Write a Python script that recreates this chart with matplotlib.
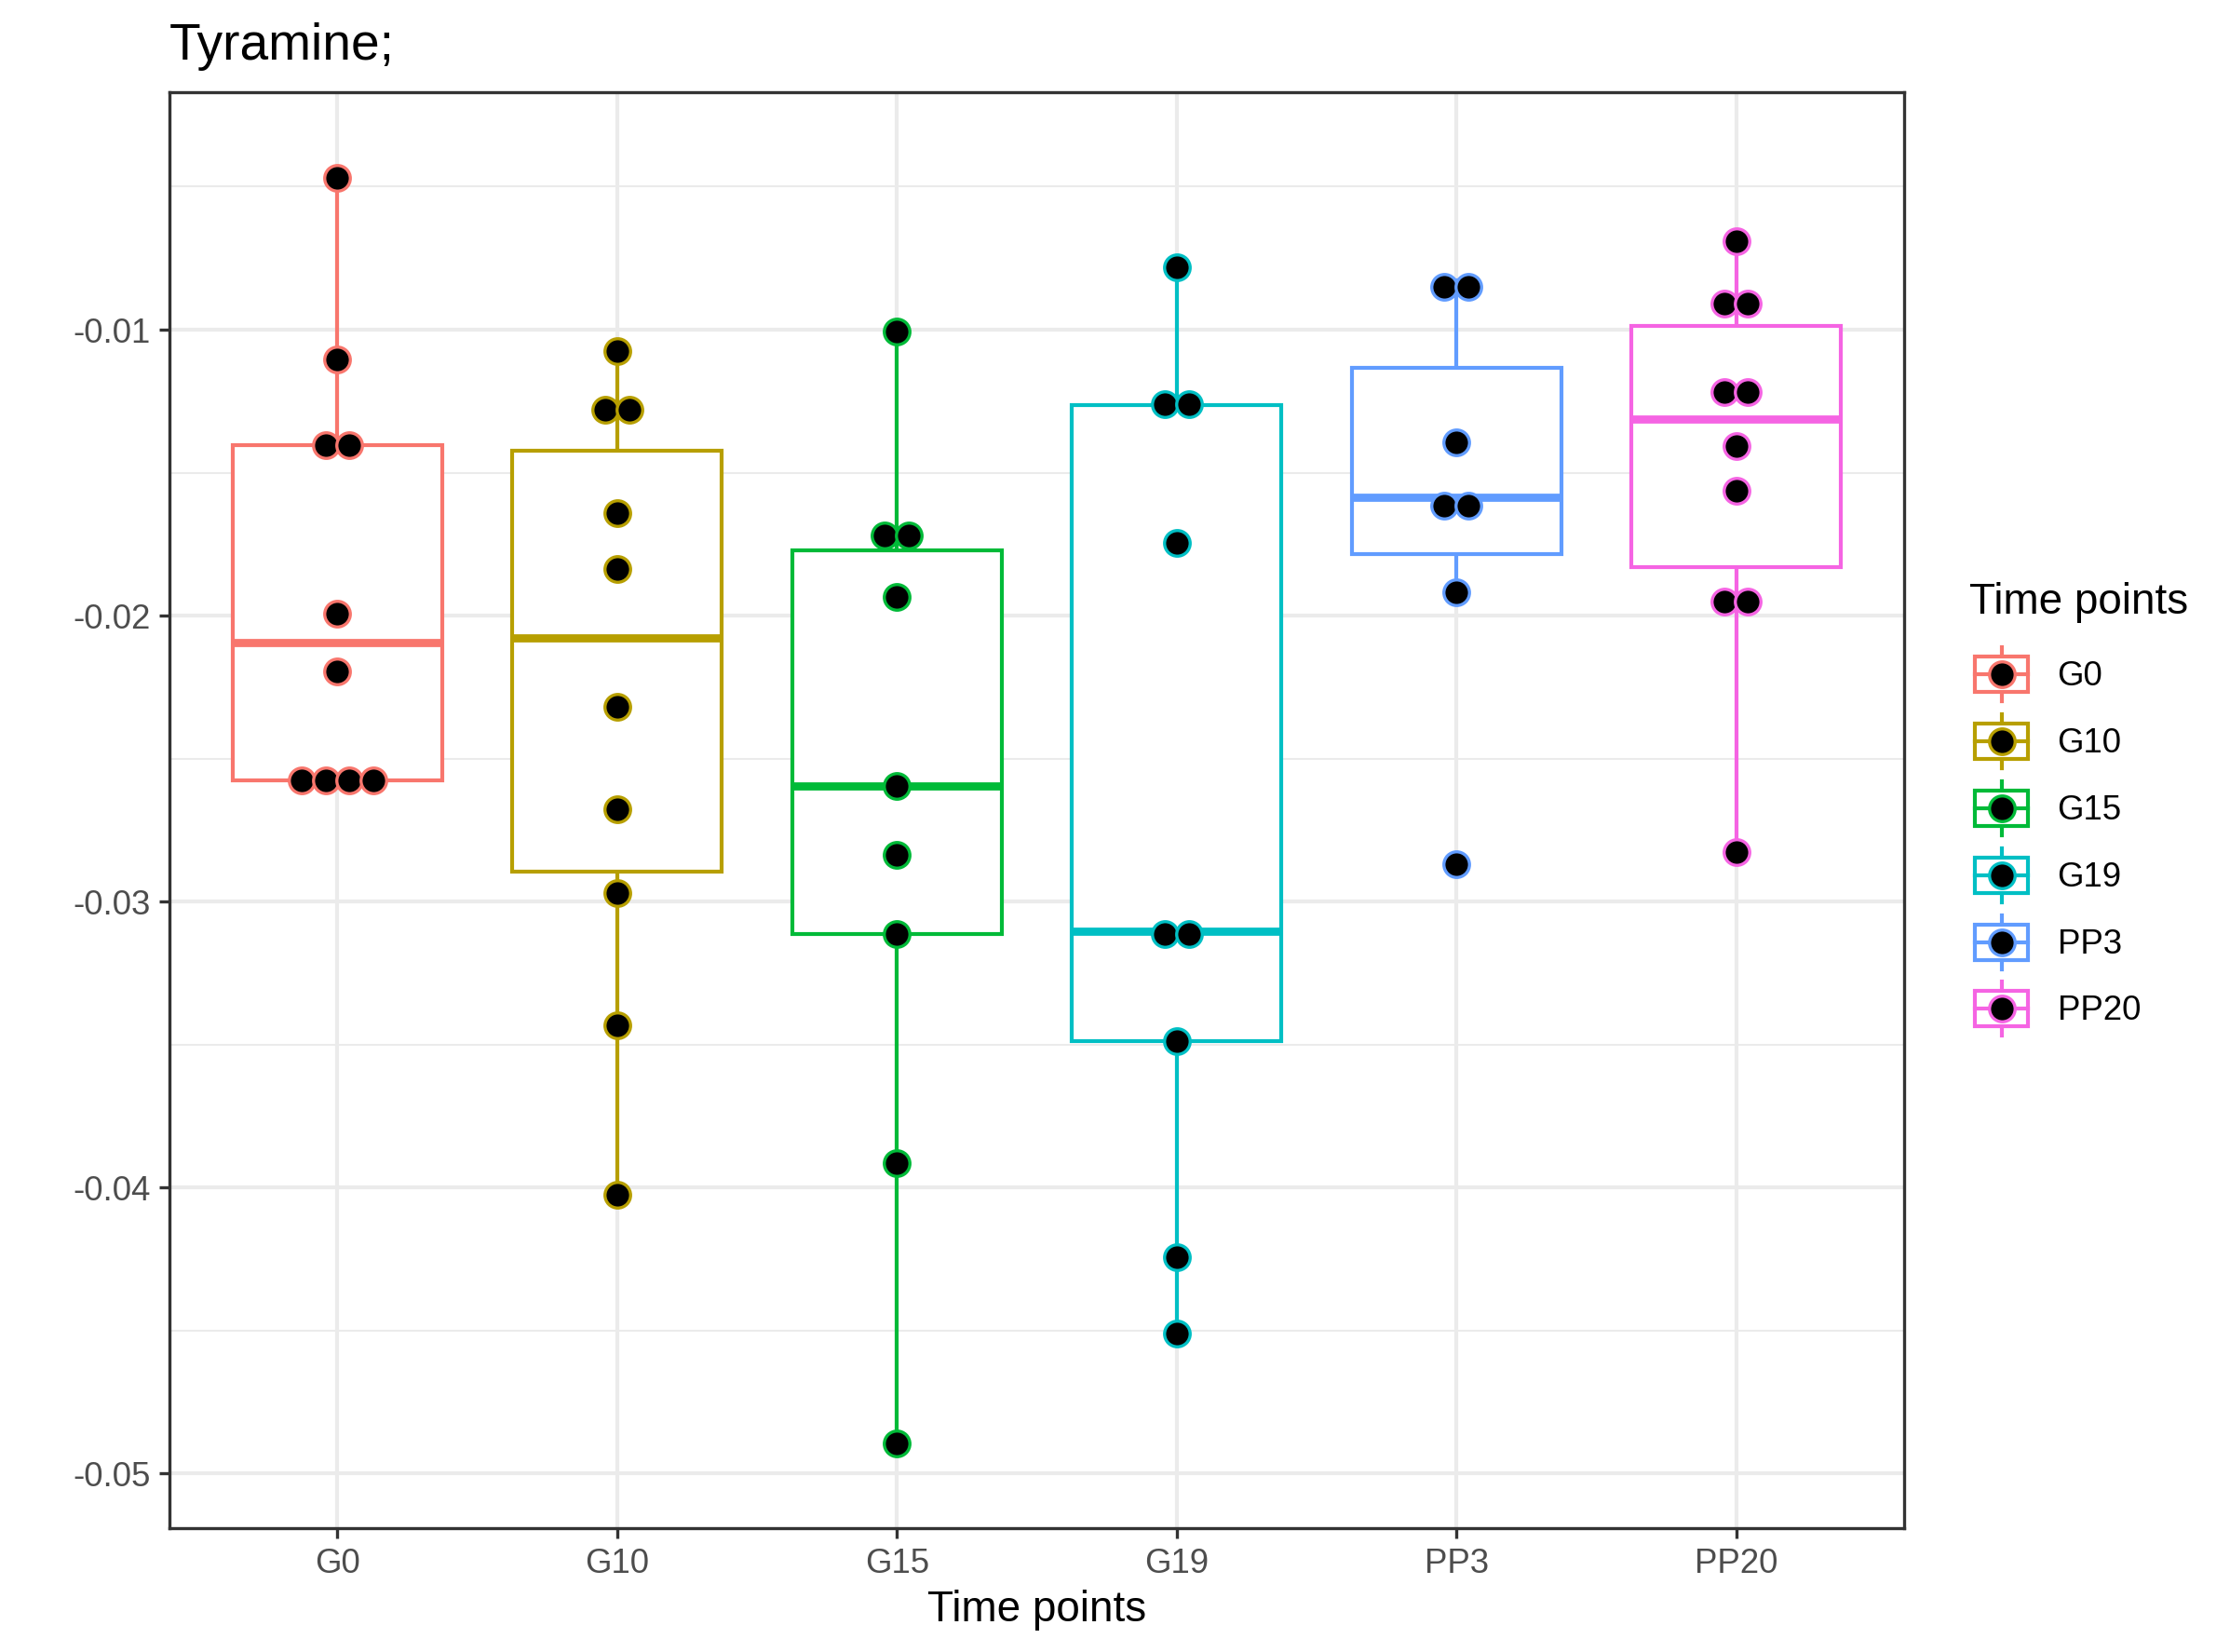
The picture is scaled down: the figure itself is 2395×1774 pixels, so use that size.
import matplotlib
matplotlib.use("Agg")
import matplotlib.pyplot as plt
import numpy as np
from matplotlib.legend_handler import HandlerBase
from matplotlib.lines import Line2D
from matplotlib.patches import Rectangle

plt.rcParams['font.family'] = ['Liberation Sans', 'DejaVu Sans']

# data
categories = ['G0', 'G10', 'G15', 'G19', 'PP3', 'PP20']
g0 = [-0.00468, -0.01104, -0.01403, -0.01403, -0.01995, -0.02194,
      -0.02577, -0.02577, -0.02577, -0.02577]
g10 = [-0.01075, -0.01210, -0.01350, -0.01642, -0.01836, -0.02318,
       -0.02677, -0.02970, -0.03433, -0.04025]
g15 = [-0.01005, -0.01671, -0.01771, -0.01935, -0.02597, -0.02836,
       -0.03114, -0.03915, -0.04896]
g19 = [-0.00781, -0.01254, -0.01264, -0.01746, -0.03104, -0.03124,
       -0.03488, -0.04244, -0.04512]
pp3 = [-0.00827, -0.00875, -0.01393, -0.01587, -0.01647, -0.01920, -0.02871]
pp20 = [-0.00691, -0.00910, -0.00910, -0.01219, -0.01219, -0.01408,
        -0.01562, -0.01920, -0.01980, -0.02826]
groups = [g0, g10, g15, g19, pp3, pp20]
colors = ['#F8766D', '#B79F00', '#00BA38', '#00BFC4', '#619CFF', '#F564E3']

W, H = 2395, 1774
fig = plt.figure(figsize=(W / 300, H / 300), dpi=300)
ax = fig.add_axes([182 / W, 1 - 1641 / H, (2045 - 182) / W, (1641 - 99) / H])

pos = np.arange(1, len(categories) + 1)

# grid like theme_bw
ax.set_axisbelow(True)
ax.set_yticks(np.arange(-0.05, -0.0099, 0.01))
ax.set_yticks(np.arange(-0.045, -0.004, 0.01), minor=True)
ax.grid(True, which='major', color='#EBEBEB', linewidth=1.0)
ax.grid(True, which='minor', axis='y', color='#EBEBEB', linewidth=0.5)

bp = ax.boxplot(groups, positions=pos, widths=0.75, patch_artist=True,
                showfliers=False, showcaps=False, whis=1.5)
for i, c in enumerate(colors):
    bp['boxes'][i].set(facecolor='white', edgecolor=c, linewidth=1.0, zorder=2)
    bp['medians'][i].set(color=c, linewidth=2.1, solid_capstyle='butt', zorder=2.1)
    for w in bp['whiskers'][2 * i:2 * i + 2]:
        w.set(color=c, linewidth=1.0, zorder=1.9)

# dot stacks: values closer than one bin share a row, centred on the bin
binwidth = (max(map(max, groups)) - min(map(min, groups))) / 30
step = 0.085
for i, (vals, c) in enumerate(zip(groups, colors)):
    v = np.sort(vals)
    j = 0
    while j < len(v):
        k = j
        while k + 1 < len(v) and v[k + 1] - v[j] < binwidth:
            k += 1
        n = k - j + 1
        centre = (v[j] + v[k]) / 2
        xs = pos[i] + (np.arange(n) - (n - 1) / 2) * step
        ax.scatter(xs, [centre] * n, s=6.6 ** 2, facecolor='black',
                   edgecolor=c, linewidth=0.8, zorder=3)
        j = k + 1

ax.set_xlim(0.4, 6.6)
ax.set_ylim(-0.05192, -0.001694)
ax.set_xticks(pos)
ax.set_xticklabels(categories)
ax.set_yticklabels(['-0.05', '-0.04', '-0.03', '-0.02', '-0.01'])
ax.tick_params(which='major', length=2.75, width=0.8, color='#333333',
               labelsize=8.8, labelcolor='#4D4D4D', pad=2.2)
ax.tick_params(which='minor', length=0)
for s in ax.spines.values():
    s.set_color('#333333')
    s.set_linewidth(0.8)

ax.set_xlabel('Time points', fontsize=11, labelpad=2.4)
ax.set_title('Tyramine;', loc='left', fontsize=13.2, pad=8.3)


class BoxDotHandler(HandlerBase):
    def create_artists(self, legend, orig_handle, xdescent, ydescent,
                       width, height, fontsize, trans):
        c = orig_handle.get_markeredgecolor()
        cx = width / 2 - xdescent
        cy = height / 2 - ydescent
        bw, bh, wh = 13.7, 9.1, 13.9
        box = Rectangle((cx - bw / 2, cy - bh / 2), bw, bh, facecolor='white',
                        edgecolor=c, linewidth=1.0, transform=trans)
        wl = Line2D([cx, cx], [cy - wh / 2, cy + wh / 2], color=c,
                    linewidth=1.0, transform=trans)
        med = Line2D([cx - bw / 2, cx + bw / 2], [cy, cy], color=c,
                     linewidth=1.0, transform=trans)
        dot = Line2D([cx], [cy], marker='o', markersize=6.6,
                     markerfacecolor='black', markeredgecolor=c,
                     markeredgewidth=0.8, transform=trans)
        return [wl, box, med, dot]


handles = [Line2D([], [], marker='o', markeredgecolor=c, linestyle='none')
           for c in colors]
leg = fig.legend(handles, categories, handler_map={Line2D: BoxDotHandler()},
                 loc='upper left', bbox_to_anchor=(2115 / W, 1 - 625 / H),
                 frameon=False, borderpad=0, borderaxespad=0, fontsize=8.8,
                 title='Time points', title_fontsize=11,
                 handlelength=1.9, handleheight=1.503, labelspacing=0.736,
                 handletextpad=0.68, alignment='left')
# a little more room between the title and the keys
leg._legend_box.sep = 0.736 * 8.8 + 1.44

fig.savefig('out.png', dpi=300)
